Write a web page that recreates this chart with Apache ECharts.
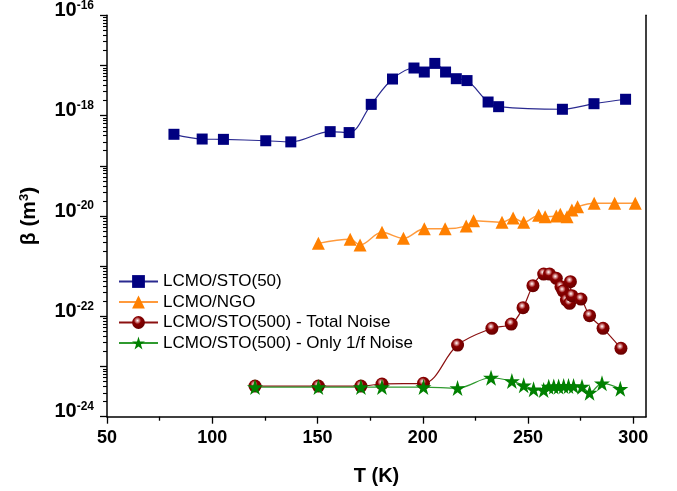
<!DOCTYPE html>
<html><head><meta charset="utf-8">
<script src="https://cdn.jsdelivr.net/npm/echarts@6/dist/echarts.min.js"></script>
<style>html,body{margin:0;padding:0;background:#fff}#c{width:677px;height:491px}</style>
</head><body><div id="c"></div>
<script>
// ---- data ----
const xTickLabels = [50, 100, 150, 200, 250, 300];
const xMinorTicks = [75, 125, 175, 225, 275];
const yLabelExps = [-24, -22, -20, -18, -16];
const yMajorExps = [-24, -23, -22, -21, -20, -19, -18, -17, -16];

const sto50T = [81.8, 95.2, 105.3, 125.4, 137.3, 156.0, 165.0, 175.5, 185.6, 195.8, 200.7, 205.7, 210.8, 215.9, 221.0, 231.0, 236.0, 266.3, 281.3, 296.3];
const sto50B = [4.25e-19, 3.42e-19, 3.37e-19, 3.16e-19, 3.0e-19, 4.8e-19, 4.6e-19, 1.68e-18, 5.37e-18, 8.9e-18, 7.4e-18, 1.10e-17, 7.4e-18, 5.45e-18, 5.0e-18, 1.87e-18, 1.51e-18, 1.34e-18, 1.73e-18, 2.12e-18];

const ngoT = [150.4, 165.5, 170.2, 180.6, 190.8, 200.7, 210.6, 220.6, 224.1, 237.6, 242.9, 247.9, 255.0, 258.1, 263.4, 265.3, 268.5, 270.8, 273.5, 281.4, 291.1, 300.9];
const ngoB = [2.85e-21, 3.43e-21, 2.64e-21, 4.73e-21, 3.59e-21, 5.57e-21, 5.57e-21, 6.3e-21, 8.05e-21, 7.48e-21, 9.12e-21, 7.48e-21, 1.03e-20, 9.7e-21, 1.0e-20, 1.08e-20, 9.7e-21, 1.31e-20, 1.53e-20, 1.79e-20, 1.79e-20, 1.79e-20];

const totT = [120.3, 150.4, 170.6, 180.6, 200.3, 216.5, 232.8, 242.0, 247.6, 252.3, 257.4, 260.2, 263.4, 265.6, 266.6, 268.2, 269.7, 270.1, 270.8, 275.1, 279.2, 285.6, 294.1];
const totB = [4.08e-24, 4.08e-24, 4.08e-24, 4.48e-24, 4.62e-24, 2.68e-23, 5.77e-23, 7.03e-23, 1.49e-22, 4.08e-22, 6.97e-22, 6.97e-22, 5.73e-22, 3.89e-22, 3.2e-22, 2.11e-22, 1.82e-22, 4.9e-22, 2.58e-22, 2.21e-22, 1.03e-22, 5.77e-23, 2.31e-23];

const oneT = [120.3, 150.4, 170.6, 180.6, 200.3, 216.5, 232.4, 242.3, 247.9, 252.6, 257.4, 259.8, 262.2, 264.5, 266.9, 269.2, 271.6, 275.6, 279.2, 285.1, 293.8];
const oneB = [3.9e-24, 3.9e-24, 3.9e-24, 3.9e-24, 3.9e-24, 3.72e-24, 5.97e-24, 5.13e-24, 4.22e-24, 3.51e-24, 3.4e-24, 3.95e-24, 4.0e-24, 4.0e-24, 4.08e-24, 4.08e-24, 4.08e-24, 3.95e-24, 3.0e-24, 4.62e-24, 3.6e-24];

// ---- chart ----
const zip = (a, b) => a.map((t, i) => [t, b[i]]);
const yMinorVals = [];
for (let n = -24; n < -16; n++) for (let k = 2; k <= 9; k++) yMinorVals.push(n + Math.log10(k));

const FONT = 'Arial, "Liberation Sans", sans-serif';
const chart = echarts.init(document.getElementById('c'), null, { renderer: 'canvas' });

const redBall = {
  type: 'radial', x: 0.42, y: 0.35, r: 0.62,
  colorStops: [
    { offset: 0, color: '#ffffff' },
    { offset: 0.2, color: '#d89090' },
    { offset: 0.45, color: '#8a0000' },
    { offset: 1, color: '#6a0000' }
  ]
};

chart.setOption({
  animation: false,
  backgroundColor: '#fff',
  grid: { left: 107, right: 31, top: 15.3, bottom: 74.3, containLabel: false, outerBoundsMode: 'none' },
  legend: {
    orient: 'vertical', left: 113, top: 268, itemWidth: 39, itemHeight: 16, itemGap: 3.5,
    textStyle: { fontSize: 17, fontFamily: FONT, color: '#000' },
    data: ['LCMO/STO(50)', 'LCMO/NGO', 'LCMO/STO(500) - Total Noise', 'LCMO/STO(500) - Only 1/f Noise']
  },
  xAxis: [
    {
      type: 'value', min: 50, max: 306, interval: 50, position: 'bottom',
      name: 'T (K)', nameLocation: 'middle', nameGap: 50,
      nameTextStyle: { fontSize: 20, fontWeight: 'bold', fontFamily: FONT, color: '#000' },
      axisLine: { show: true, lineStyle: { color: '#000', width: 1.5 } },
      axisTick: { show: true, inside: false, length: 7, lineStyle: { width: 1.3, color: '#000' }, customValues: xTickLabels },
      axisLabel: { show: true, customValues: xTickLabels, fontSize: 18, fontWeight: 'bold', fontFamily: FONT, color: '#000', margin: 12 },
      splitLine: { show: false }
    },
    {
      type: 'value', min: 50, max: 306, position: 'bottom',
      axisLine: { show: false },
      axisTick: { show: true, inside: false, length: 4, lineStyle: { width: 1.3, color: '#000' }, customValues: xMinorTicks },
      axisLabel: { show: false }, splitLine: { show: false }
    }
  ],
  yAxis: [
    {
      type: 'log', logBase: 10, min: 1e-24, max: 1e-16, position: 'left',
      axisLine: { show: true, lineStyle: { color: '#000', width: 1.5 } },
      axisTick: { show: false }, axisLabel: { show: false }, splitLine: { show: false }, minorTick: { show: false }
    },
    {
      type: 'value', min: -24, max: -16, position: 'left',
      name: 'β (m{s|3})', nameLocation: 'middle', nameGap: 66, nameRotate: 90,
      nameTextStyle: { fontSize: 21, fontWeight: 'bold', fontFamily: FONT, color: '#000',
        rich: { s: { fontSize: 13, fontWeight: 'bold', fontFamily: FONT, padding: [0, 0, 10, 0] } } },
      axisLine: { show: false },
      axisTick: { show: true, inside: false, length: 7, lineStyle: { width: 1.3, color: '#000' }, customValues: yMajorExps },
      axisLabel: {
        show: true, customValues: yLabelExps, margin: 13, verticalAlign: 'middle', padding: [0, 0, 10, 0],
        formatter: v => '{b|10}{s|' + v + '}',
        rich: {
          b: { fontSize: 20, fontWeight: 'bold', fontFamily: FONT, color: '#000' },
          s: { fontSize: 12, fontWeight: 'bold', fontFamily: FONT, color: '#000', padding: [0, 0, 10, 0] }
        }
      },
      splitLine: { show: false }
    },
    {
      type: 'value', min: -24, max: -16, position: 'left',
      axisLine: { show: false },
      axisTick: { show: true, inside: false, length: 4, lineStyle: { width: 1.1, color: '#000' }, customValues: yMinorVals },
      axisLabel: { show: false }, splitLine: { show: false }
    },
    {
      type: 'value', min: -24, max: -16, position: 'right',
      axisLine: { show: true, lineStyle: { color: '#000', width: 1.5 } },
      axisTick: { show: false }, axisLabel: { show: false }, splitLine: { show: false }
    }
  ],
  series: [
    {
      name: 'LCMO/STO(50)', type: 'line', xAxisIndex: 0, yAxisIndex: 0, data: zip(sto50T, sto50B),
      smooth: 0.35, symbol: 'rect', symbolSize: 11,
      itemStyle: { color: '#000080' }, lineStyle: { color: '#2a2a90', width: 1.2 }
    },
    {
      name: 'LCMO/NGO', type: 'line', xAxisIndex: 0, yAxisIndex: 0, data: zip(ngoT, ngoB),
      smooth: 0.35, symbol: 'triangle', symbolSize: 13,
      itemStyle: { color: '#ff8000' }, lineStyle: { color: '#ff9a3c', width: 1.4 }
    },
    {
      name: 'LCMO/STO(500) - Total Noise', type: 'line', xAxisIndex: 0, yAxisIndex: 0, data: zip(totT, totB),
      smooth: 0.35, symbol: 'circle', symbolSize: 13,
      itemStyle: { color: redBall }, lineStyle: { color: '#8b1010', width: 1.2 }
    },
    {
      name: 'LCMO/STO(500) - Only 1/f Noise', type: 'line', xAxisIndex: 0, yAxisIndex: 0, data: zip(oneT, oneB),
      smooth: 0.35, symbol: 'path://M50,0 L61.8,36.2 L100,36.2 L69.1,58.6 L80.9,95.1 L50,72.7 L19.1,95.1 L30.9,58.6 L0,36.2 L38.2,36.2 Z', symbolSize: 16,
      itemStyle: { color: '#008000' }, lineStyle: { color: '#2f9a2f', width: 1.2 }
    }
  ]
});
</script>
</body></html>
